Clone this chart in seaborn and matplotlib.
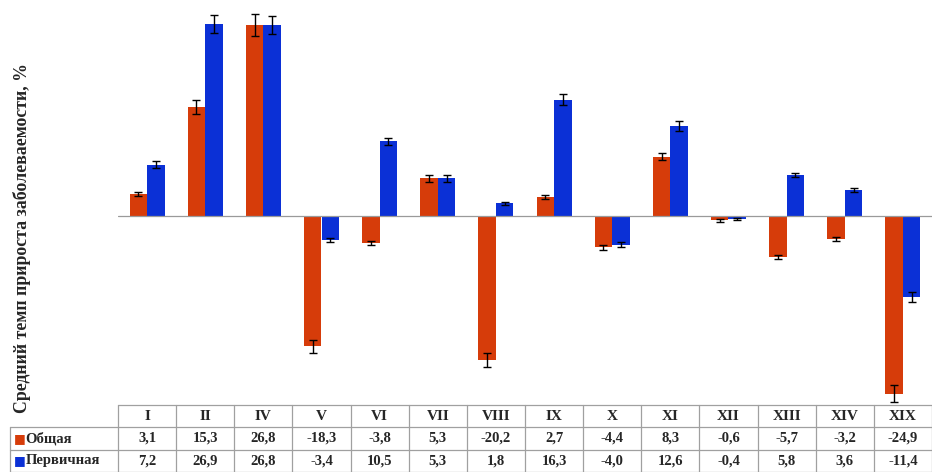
import matplotlib
matplotlib.use("Agg")
import matplotlib.pyplot as plt
import seaborn as sns
import pandas as pd
import numpy as np

# Disease classes (ICD chapters)
categories = ["I", "II", "IV", "V", "VI", "VII", "VIII", "IX", "X", "XI", "XII", "XIII", "XIV", "XIX"]
series_names = ["Общая", "Первичная"]
total_vals = [3.1, 15.3, 26.8, -18.3, -3.8, 5.3, -20.2, 2.7, -4.4, 8.3, -0.6, -5.7, -3.2, -24.9]
primary_vals = [7.2, 26.9, 26.8, -3.4, 10.5, 5.3, 1.8, 16.3, -4.0, 12.6, -0.4, 5.8, 3.6, -11.4]
total_err = [0.3, 1.0, 1.5, 0.9, 0.3, 0.5, 1.0, 0.3, 0.3, 0.5, 0.2, 0.3, 0.3, 1.2]
primary_err = [0.5, 1.3, 1.3, 0.3, 0.5, 0.5, 0.2, 0.8, 0.3, 0.7, 0.1, 0.3, 0.3, 0.7]
total_labels = ["3,1", "15,3", "26,8", "-18,3", "-3,8", "5,3", "-20,2", "2,7", "-4,4", "8,3", "-0,6", "-5,7", "-3,2", "-24,9"]
primary_labels = ["7,2", "26,9", "26,8", "-3,4", "10,5", "5,3", "1,8", "16,3", "-4,0", "12,6", "-0,4", "5,8", "3,6", "-11,4"]
ylabel = "Средний темп прироста заболеваемости, %"

colors = ["#D63C0A", "#0B30D6"]

df = pd.DataFrame({
    "cat": categories * 2,
    "series": [series_names[0]] * len(categories) + [series_names[1]] * len(categories),
    "value": total_vals + primary_vals,
    "err": total_err + primary_err,
})

sns.set_style("white")
plt.rcParams["font.family"] = ["Liberation Serif", "DejaVu Serif"]

W, H = 932, 472
fig = plt.figure(figsize=(W / 100, H / 100), dpi=100)

ax_left, ax_right = 118, 932
ax_top, ax_bottom = 5, 405
zero_px = 216
px_per_unit = 7.13
ax = fig.add_axes([ax_left / W, (H - ax_bottom) / H, (ax_right - ax_left) / W, (ax_bottom - ax_top) / H])

sns.barplot(data=df, x="cat", y="value", hue="series", hue_order=series_names,
            order=categories, palette=colors, saturation=1, errorbar=None, width=0.6,
            linewidth=0, legend=False, ax=ax)

# error bars at the end of each bar
for cont, errs in zip(ax.containers, [total_err, primary_err]):
    for patch, e in zip(cont.patches, errs):
        xc = patch.get_x() + patch.get_width() / 2
        yv = patch.get_y() + patch.get_height()
        ax.errorbar(xc, yv, yerr=e, fmt="none", ecolor="black", elinewidth=1.0,
                    capsize=3, capthick=1.0, zorder=5)

ax.axhline(0, color="#9a9a9a", linewidth=0.9, zorder=1)
ax.set_ylim(-(ax_bottom - zero_px) / px_per_unit, (zero_px - ax_top) / px_per_unit)
ax.set_xlim(-0.5, len(categories) - 0.5)
ax.set_xticks([])
ax.set_yticks([])
ax.set_xlabel("")
ax.set_ylabel("")
for s in ax.spines.values():
    s.set_visible(False)

fig.text(22 / W, 1 - 238 / H, ylabel, rotation=90, ha="center", va="center",
         fontsize=12.8, fontweight="bold")

# data table beneath the bars
tax = fig.add_axes([ax_left / W, 0, (ax_right - ax_left) / W, (H - ax_bottom) / H])
tax.set_xlim(ax.get_xlim())
tax.set_ylim(0, 3)
tax.axis("off")
n = len(categories)
cat_px = (ax_right - ax_left) / n
lab_left = -0.5 - (ax_left - 10) / cat_px
lc = "#a0a0a0"
lw = 0.9
tax.plot([-0.5, n - 0.5], [3, 3], color=lc, lw=lw, clip_on=False)
for yy in (2, 1, 0.02):
    tax.plot([lab_left, n - 0.5], [yy, yy], color=lc, lw=lw, clip_on=False)
tax.plot([lab_left, lab_left], [0, 2], color=lc, lw=lw, clip_on=False)
for i in range(n + 1):
    tax.plot([i - 0.5, i - 0.5], [0, 3], color=lc, lw=lw, clip_on=False)

for i, c in enumerate(categories):
    tax.text(i, 2.5, c, ha="center", va="center", fontsize=11, fontweight="bold")
    tax.text(i, 1.5, total_labels[i], ha="center", va="center", fontsize=10.5, fontweight="bold")
    tax.text(i, 0.5, primary_labels[i], ha="center", va="center", fontsize=10.5, fontweight="bold")

for row_y, name, col in [(1.5, series_names[0], colors[0]), (0.5, series_names[1], colors[1])]:
    tax.text(lab_left + 0.06, row_y, "■", ha="left", va="center", fontsize=9,
             color=col, family=["DejaVu Sans"], clip_on=False)
    tax.text(lab_left + 0.27, row_y, name, ha="left", va="center", fontsize=10.5,
             fontweight="bold", clip_on=False)

fig.savefig("out.png", dpi=100)
